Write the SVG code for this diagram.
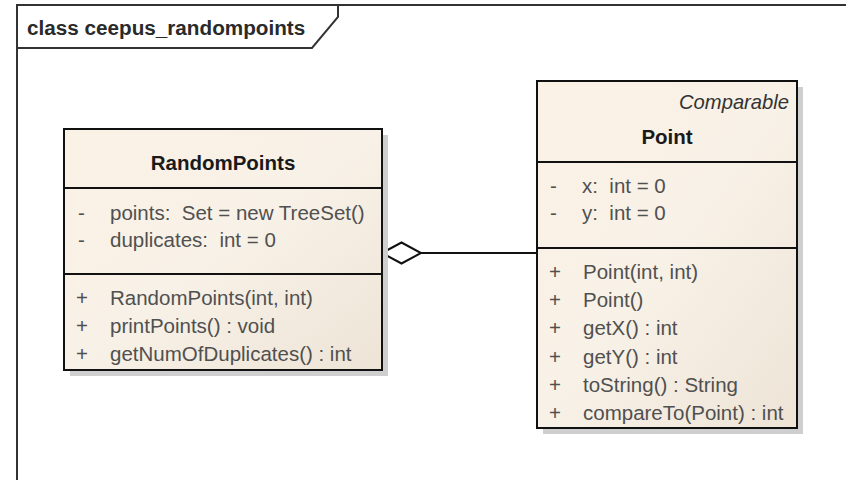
<svg xmlns="http://www.w3.org/2000/svg" width="846" height="480" viewBox="0 0 846 480">
  <style>
    .frame { fill: none; stroke: #333; stroke-width: 2; }
    .box { fill: url(#cream); stroke: #111; stroke-width: 2; }
    .shadow { fill: #cfcfcf; }
    .div { stroke: #111; stroke-width: 2; }
    .name { font-family: "Liberation Sans", Arial, sans-serif; font-size: 20.5px; font-weight: bold; fill: #1a1a1a; text-anchor: middle; }
    .mem { font-family: "Liberation Sans", Arial, sans-serif; font-size: 20.5px; fill: #505050; white-space: pre; }
    .stereo { font-family: "Liberation Sans", Arial, sans-serif; font-size: 20.2px; font-style: italic; fill: #333; text-anchor: end; }
    .title { font-family: "Liberation Sans", Arial, sans-serif; font-size: 20.7px; font-weight: bold; fill: #2a2a2a; }
    .conn { fill: none; stroke: #111; stroke-width: 2; }
  </style>
  <defs>
    <linearGradient id="cream" x1="0" y1="0" x2="1" y2="1">
      <stop offset="0" stop-color="#fbf2e6"/>
      <stop offset="0.5" stop-color="#f8f1e7"/>
      <stop offset="1" stop-color="#ede4d6"/>
    </linearGradient>
  </defs>
  <rect x="0" y="0" width="846" height="480" fill="#ffffff"/>
  <g id="frame">
    <path class="frame" d="M17,490 L17,5 L850,5"/>
    <path class="frame" d="M17,48 L312,48 L338,17 L338,5"/>
    <text class="title" x="27" y="35">class ceepus_randompoints</text>
  </g>
  <g id="connectors">
    <line class="conn" x1="421" y1="253" x2="537" y2="253"/>
    <polygon points="382,253 401.5,242.5 421,253 401.5,263.5" fill="#ffffff" stroke="#111" stroke-width="2"/>
  </g>
  <g id="RandomPoints">
    <rect class="shadow" x="70" y="135" width="318" height="241"/>
    <rect class="box" x="64" y="129" width="318" height="241"/>
    <line class="div" x1="64" y1="188" x2="382" y2="188"/>
    <line class="div" x1="64" y1="274" x2="382" y2="274"/>
    <text class="name" x="223" y="170">RandomPoints</text>
    <text class="mem" x="78" y="220">-</text>
    <text class="mem" x="110" y="220" xml:space="preserve">points:  Set = new TreeSet()</text>
    <text class="mem" x="78" y="247">-</text>
    <text class="mem" x="110" y="247" xml:space="preserve">duplicates:  int = 0</text>
    <text class="mem" x="76" y="305">+</text>
    <text class="mem" x="110" y="305">RandomPoints(int, int)</text>
    <text class="mem" x="76" y="333">+</text>
    <text class="mem" x="110" y="333">printPoints() : void</text>
    <text class="mem" x="76" y="361">+</text>
    <text class="mem" x="110" y="361">getNumOfDuplicates() : int</text>
  </g>
  <g id="Point">
    <rect class="shadow" x="543" y="87" width="260" height="347"/>
    <rect class="box" x="537" y="81" width="260" height="347"/>
    <line class="div" x1="537" y1="162" x2="797" y2="162"/>
    <line class="div" x1="537" y1="248" x2="797" y2="248"/>
    <text class="stereo" x="789" y="109">Comparable</text>
    <text class="name" x="667" y="144">Point</text>
    <text class="mem" x="550" y="193">-</text>
    <text class="mem" x="582" y="193" xml:space="preserve">x:  int = 0</text>
    <text class="mem" x="550" y="220">-</text>
    <text class="mem" x="582" y="220" xml:space="preserve">y:  int = 0</text>
    <text class="mem" x="549" y="279">+</text>
    <text class="mem" x="583" y="279">Point(int, int)</text>
    <text class="mem" x="549" y="307">+</text>
    <text class="mem" x="583" y="307">Point()</text>
    <text class="mem" x="549" y="335">+</text>
    <text class="mem" x="583" y="335">getX() : int</text>
    <text class="mem" x="549" y="364">+</text>
    <text class="mem" x="583" y="364">getY() : int</text>
    <text class="mem" x="549" y="392">+</text>
    <text class="mem" x="583" y="392">toString() : String</text>
    <text class="mem" x="549" y="420">+</text>
    <text class="mem" x="583" y="420">compareTo(Point) : int</text>
  </g>
</svg>
